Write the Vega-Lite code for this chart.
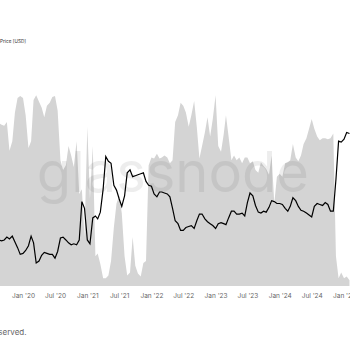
{
  "$schema": "https://vega.github.io/schema/vega-lite/v6.json",
  "width": 350,
  "height": 211,
  "autosize": {"type": "none"},
  "padding": {"left": 0, "top": 75, "right": 0, "bottom": 64},
  "background": "white",
  "config": {"view": {"stroke": null}},
  "title": {"text": "Price [USD]", "anchor": "start", "frame": "group", "fontSize": 4.7, "fontWeight": "normal", "color": "#333333", "offset": 31, "font": "Inter"},
  "data": {"values": [
    {"date": "2019-08-16", "price": 48, "share": 170},
    {"date": "2019-09-01", "price": 47, "share": 168},
    {"date": "2019-09-16", "price": 48, "share": 167},
    {"date": "2019-10-01", "price": 51, "share": 171},
    {"date": "2019-10-16", "price": 49, "share": 141},
    {"date": "2019-11-01", "price": 52, "share": 151},
    {"date": "2019-11-16", "price": 46, "share": 181},
    {"date": "2019-12-01", "price": 40, "share": 196},
    {"date": "2019-12-16", "price": 33, "share": 198},
    {"date": "2020-01-01", "price": 34, "share": 196},
    {"date": "2020-01-16", "price": 37, "share": 178},
    {"date": "2020-02-01", "price": 42, "share": 144},
    {"date": "2020-02-16", "price": 52, "share": 151},
    {"date": "2020-03-01", "price": 45, "share": 194},
    {"date": "2020-03-16", "price": 24, "share": 199},
    {"date": "2020-04-01", "price": 26, "share": 192},
    {"date": "2020-04-16", "price": 32, "share": 186},
    {"date": "2020-05-01", "price": 35, "share": 176},
    {"date": "2020-05-16", "price": 34, "share": 188},
    {"date": "2020-06-01", "price": 33, "share": 191},
    {"date": "2020-06-16", "price": 33, "share": 197},
    {"date": "2020-07-01", "price": 29, "share": 198},
    {"date": "2020-07-16", "price": 36, "share": 183},
    {"date": "2020-08-01", "price": 50, "share": 131},
    {"date": "2020-08-16", "price": 51, "share": 121},
    {"date": "2020-09-01", "price": 48, "share": 126},
    {"date": "2020-09-16", "price": 45, "share": 146},
    {"date": "2020-10-01", "price": 43, "share": 136},
    {"date": "2020-10-16", "price": 44, "share": 124},
    {"date": "2020-11-01", "price": 43, "share": 151},
    {"date": "2020-11-16", "price": 48, "share": 96},
    {"date": "2020-12-01", "price": 88, "share": 101},
    {"date": "2020-12-16", "price": 81, "share": 51},
    {"date": "2021-01-01", "price": 48, "share": 166},
    {"date": "2021-01-16", "price": 44, "share": 91},
    {"date": "2021-02-01", "price": 71, "share": 146},
    {"date": "2021-02-16", "price": 73, "share": 31},
    {"date": "2021-03-01", "price": 70, "share": 34},
    {"date": "2021-03-16", "price": 77, "share": 23},
    {"date": "2021-04-01", "price": 101, "share": 8},
    {"date": "2021-04-16", "price": 135, "share": 8},
    {"date": "2021-05-01", "price": 130, "share": 11},
    {"date": "2021-05-16", "price": 128, "share": 26},
    {"date": "2021-06-01", "price": 105, "share": 61},
    {"date": "2021-06-16", "price": 100, "share": 86},
    {"date": "2021-07-01", "price": 91, "share": 94},
    {"date": "2021-07-16", "price": 83, "share": 76},
    {"date": "2021-08-01", "price": 94, "share": 31},
    {"date": "2021-08-16", "price": 118, "share": 11},
    {"date": "2021-09-01", "price": 121, "share": 14},
    {"date": "2021-09-16", "price": 114, "share": 51},
    {"date": "2021-10-01", "price": 115, "share": 21},
    {"date": "2021-10-16", "price": 116, "share": 13},
    {"date": "2021-11-01", "price": 117, "share": 10},
    {"date": "2021-11-16", "price": 118, "share": 24},
    {"date": "2021-12-01", "price": 109, "share": 26},
    {"date": "2021-12-16", "price": 105, "share": 126},
    {"date": "2022-01-01", "price": 104, "share": 134},
    {"date": "2022-01-16", "price": 96, "share": 133},
    {"date": "2022-02-01", "price": 93, "share": 138},
    {"date": "2022-02-16", "price": 98, "share": 133},
    {"date": "2022-03-01", "price": 98, "share": 134},
    {"date": "2022-03-16", "price": 97, "share": 136},
    {"date": "2022-04-01", "price": 96, "share": 134},
    {"date": "2022-04-16", "price": 93, "share": 128},
    {"date": "2022-05-01", "price": 81, "share": 131},
    {"date": "2022-05-16", "price": 68, "share": 171},
    {"date": "2022-06-01", "price": 65, "share": 178},
    {"date": "2022-06-16", "price": 58, "share": 191},
    {"date": "2022-07-01", "price": 58, "share": 188},
    {"date": "2022-07-16", "price": 61, "share": 181},
    {"date": "2022-08-01", "price": 62, "share": 166},
    {"date": "2022-08-16", "price": 63, "share": 178},
    {"date": "2022-09-01", "price": 60, "share": 193},
    {"date": "2022-09-16", "price": 68, "share": 166},
    {"date": "2022-10-01", "price": 75, "share": 133},
    {"date": "2022-10-16", "price": 75, "share": 146},
    {"date": "2022-11-01", "price": 70, "share": 160},
    {"date": "2022-11-16", "price": 67, "share": 176},
    {"date": "2022-12-01", "price": 65, "share": 156},
    {"date": "2022-12-16", "price": 63, "share": 174},
    {"date": "2023-01-01", "price": 60, "share": 199},
    {"date": "2023-01-16", "price": 65, "share": 146},
    {"date": "2023-02-01", "price": 66, "share": 140},
    {"date": "2023-02-16", "price": 65, "share": 158},
    {"date": "2023-03-01", "price": 64, "share": 178},
    {"date": "2023-03-16", "price": 71, "share": 156},
    {"date": "2023-04-01", "price": 78, "share": 131},
    {"date": "2023-04-16", "price": 78, "share": 136},
    {"date": "2023-05-01", "price": 75, "share": 131},
    {"date": "2023-05-16", "price": 75, "share": 134},
    {"date": "2023-06-01", "price": 76, "share": 128},
    {"date": "2023-06-16", "price": 73, "share": 134},
    {"date": "2023-07-01", "price": 87, "share": 134},
    {"date": "2023-07-16", "price": 97, "share": 128},
    {"date": "2023-08-01", "price": 94, "share": 130},
    {"date": "2023-08-16", "price": 84, "share": 121},
    {"date": "2023-09-01", "price": 77, "share": 118},
    {"date": "2023-09-16", "price": 76, "share": 129},
    {"date": "2023-10-01", "price": 78, "share": 125},
    {"date": "2023-10-16", "price": 77, "share": 122},
    {"date": "2023-11-01", "price": 82, "share": 116},
    {"date": "2023-11-16", "price": 89, "share": 136},
    {"date": "2023-12-01", "price": 88, "share": 86},
    {"date": "2023-12-16", "price": 86, "share": 114},
    {"date": "2024-01-01", "price": 86, "share": 117},
    {"date": "2024-01-16", "price": 85, "share": 114},
    {"date": "2024-02-01", "price": 81, "share": 128},
    {"date": "2024-02-16", "price": 78, "share": 129},
    {"date": "2024-03-01", "price": 83, "share": 131},
    {"date": "2024-03-16", "price": 92, "share": 148},
    {"date": "2024-04-01", "price": 89, "share": 134},
    {"date": "2024-04-16", "price": 83, "share": 130},
    {"date": "2024-05-01", "price": 79, "share": 136},
    {"date": "2024-05-16", "price": 78, "share": 148},
    {"date": "2024-06-01", "price": 76, "share": 154},
    {"date": "2024-06-16", "price": 74, "share": 164},
    {"date": "2024-07-01", "price": 72, "share": 174},
    {"date": "2024-07-16", "price": 83, "share": 164},
    {"date": "2024-08-01", "price": 86, "share": 156},
    {"date": "2024-08-16", "price": 85, "share": 152},
    {"date": "2024-09-01", "price": 84, "share": 154},
    {"date": "2024-09-16", "price": 87, "share": 154},
    {"date": "2024-10-01", "price": 85, "share": 153},
    {"date": "2024-10-16", "price": 78, "share": 154},
    {"date": "2024-11-01", "price": 78, "share": 159},
    {"date": "2024-11-16", "price": 111, "share": 31},
    {"date": "2024-12-01", "price": 151, "share": 8},
    {"date": "2024-12-16", "price": 150, "share": 14},
    {"date": "2025-01-01", "price": 153, "share": 8},
    {"date": "2025-01-16", "price": 160, "share": 10},
    {"date": "2025-02-01", "price": 159, "share": 6}
  ]},
  "encoding": {
    "x": {
      "field": "date", "type": "temporal",
      "scale": {"type": "utc", "domain": ["2019-08-23", "2025-02-04"]},
      "axis": {
        "title": "© 2025 Glassnode. All rights reserved.",
        "titleAnchor": "start", "titleAlign": "right", "titleX": 26, "titleY": 46, "titleBaseline": "middle",
        "titleFontSize": 8, "titleFontWeight": "normal", "titleColor": "#666666", "titleFont": "Inter",
        "tickCount": {"interval": "month", "step": 6},
        "labelExpr": "utcFormat(datum.value, \"%b '%y\")",
        "labelFontSize": 6.5, "labelColor": "#666666", "labelFont": "Inter", "labelFontWeight": "normal",
        "labelPadding": 6, "ticks": false, "domain": false, "grid": false,
        "labelOverlap": false, "labelBound": false, "labelFlush": false
      }
    }
  },
  "layer": [
    {
      "mark": {"type": "area", "color": "#d4d4d4", "clip": true},
      "encoding": {
        "y": {
          "field": "share", "type": "quantitative",
          "scale": {"domain": [0, 211]},
          "axis": {
            "title": null, "labels": false, "ticks": false, "domain": false,
            "grid": true, "gridColor": "#efefef", "gridWidth": 0.8,
            "values": [0, 23.44, 46.89, 70.33, 93.78, 117.22, 140.67, 164.11, 187.56, 211]
          }
        }
      }
    },
    {
      "data": {"values": [{"date": "2022-05-03", "level": 98, "label": "glassnode"}]},
      "mark": {"type": "text", "font": "Inter", "fontSize": 56, "align": "center", "baseline": "alphabetic", "color": "#000000", "opacity": 0.065},
      "encoding": {
        "y": {"field": "level", "type": "quantitative", "axis": null},
        "text": {"field": "label"}
      }
    },
    {
      "mark": {"type": "line", "color": "#000000", "strokeWidth": 1.2, "clip": true},
      "encoding": {
        "y": {"field": "price", "type": "quantitative", "axis": null}
      }
    }
  ]
}
